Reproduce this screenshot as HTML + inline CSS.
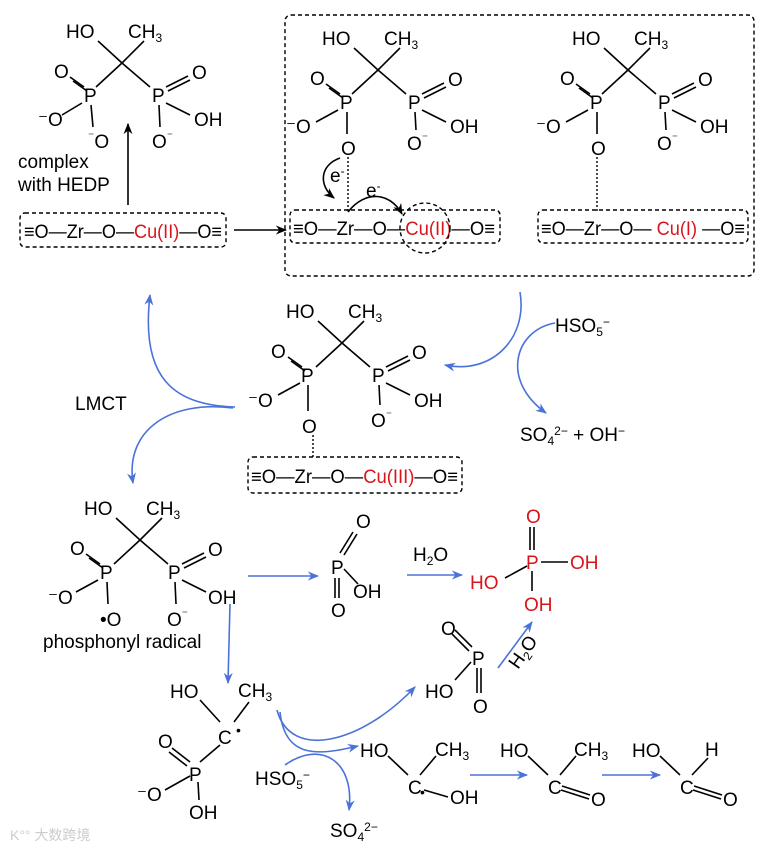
<!DOCTYPE html>
<html><head><meta charset="utf-8"><style>
html,body{margin:0;padding:0;background:#fff;}
svg{display:block;}
text{font-family:"Liberation Sans",Arial,sans-serif;font-size:19px;fill:#000;}
.r{fill:#d9141b;}
.s{font-size:12px;}
line,path.b{stroke:#000;stroke-width:1.6;fill:none;}
.bl{stroke:#4a72d9;stroke-width:1.6;fill:none;}
.dash{stroke:#000;stroke-width:1.4;fill:none;stroke-dasharray:4 3;}
.dot{stroke:#000;stroke-width:1.4;stroke-dasharray:2 2;}
</style></head><body>
<svg width="763" height="851" viewBox="0 0 763 851" xmlns="http://www.w3.org/2000/svg">
<defs>
<marker id="ab" viewBox="0 0 10 10" refX="9" refY="5" markerWidth="7" markerHeight="7" orient="auto"><path d="M0,1 L10,5 L0,9 L3,5 z" fill="#4a72d9"/></marker>
<marker id="ak" viewBox="0 0 10 10" refX="9" refY="5" markerWidth="7" markerHeight="7" orient="auto"><path d="M0,1 L10,5 L0,9 L3,5 z" fill="#000"/></marker>
</defs>

<!-- HEDP 1 top-left -->
<g transform="translate(122,63)">
<text x="-56" y="-25">HO</text><text x="6" y="-25">CH<tspan class="s" dy="4">3</tspan></text>
<line x1="0" y1="0" x2="-24" y2="-22"/><line x1="0" y1="0" x2="22" y2="-22"/>
<line x1="0" y1="0" x2="-26" y2="24"/><line x1="0" y1="0" x2="28" y2="24"/>
<text x="-38" y="39">P</text><text x="30" y="39">P</text>
<text x="-68" y="15">O</text><text x="70" y="16">O</text>
<line x1="-38" y1="24" x2="-52" y2="14"/><line x1="-35" y1="28" x2="-49" y2="18"/>
<line x1="44" y1="24" x2="66" y2="13"/><line x1="46" y1="28" x2="68" y2="17"/>
<text x="-84" y="63">⁻O</text><text x="-34" y="85"><tspan class="s" dy="-8">⁻</tspan><tspan dy="8">O</tspan></text>
<text x="72" y="63">OH</text><text x="30" y="85">O<tspan class="s" dy="-8">⁻</tspan></text>
<line x1="-40" y1="40" x2="-60" y2="52"/><line x1="-31" y1="42" x2="-29" y2="64"/>
<line x1="44" y1="40" x2="68" y2="52"/><line x1="37" y1="42" x2="38" y2="64"/>
</g>
<line x1="128" y1="205" x2="128" y2="124" marker-end="url(#ak)"/>
<text x="18" y="168">complex</text><text x="18" y="191">with HEDP</text>
<rect class="dash" x="20" y="213" width="206" height="34" rx="5"/>
<text x="24" y="238" textLength="198" lengthAdjust="spacingAndGlyphs">≡O—Zr—O—<tspan class="r">Cu(II)</tspan>—O≡</text>
<line x1="234" y1="230" x2="286" y2="230" marker-end="url(#ak)"/>

<!-- big box -->
<rect class="dash" x="285" y="15" width="469" height="261" rx="6"/>
<!-- HEDP 2 -->
<g transform="translate(378,70)">
<text x="-56" y="-25">HO</text><text x="6" y="-25">CH<tspan class="s" dy="4">3</tspan></text>
<line x1="0" y1="0" x2="-24" y2="-22"/><line x1="0" y1="0" x2="22" y2="-22"/>
<line x1="0" y1="0" x2="-26" y2="24"/><line x1="0" y1="0" x2="28" y2="24"/>
<text x="-38" y="39">P</text><text x="30" y="39">P</text>
<text x="-68" y="15">O</text><text x="70" y="16">O</text>
<line x1="-38" y1="24" x2="-52" y2="14"/><line x1="-35" y1="28" x2="-49" y2="18"/>
<line x1="44" y1="24" x2="66" y2="13"/><line x1="46" y1="28" x2="68" y2="17"/>
<text x="-92" y="63">⁻O</text><text x="-37" y="85">O</text>
<text x="72" y="63">OH</text><text x="29" y="80">O<tspan class="s" dy="-8">⁻</tspan></text>
<line x1="-40" y1="40" x2="-62" y2="52"/><line x1="-31" y1="42" x2="-31" y2="64"/>
<line x1="44" y1="40" x2="68" y2="52"/><line x1="37" y1="42" x2="38" y2="60"/>
</g>
<line class="dot" x1="348" y1="157" x2="348" y2="211"/>
<path class="b" d="M340,158 C320,165 318,185 334,198" marker-end="url(#ak)"/>
<text x="330" y="182">e<tspan class="s" dy="-7">-</tspan></text>
<path class="b" d="M348,212 C365,190 390,192 402,214" marker-end="url(#ak)"/>
<text x="366" y="197">e<tspan class="s" dy="-7">-</tspan></text>
<rect class="dash" x="290" y="210" width="210" height="33" rx="5"/>
<text x="293" y="235" textLength="202" lengthAdjust="spacingAndGlyphs">≡O—Zr—O—<tspan class="r">Cu(II)</tspan>—O≡</text>
<circle class="dash" cx="425" cy="228" r="25"/>

<!-- HEDP 3 -->
<g transform="translate(628,70)">
<text x="-56" y="-25">HO</text><text x="6" y="-25">CH<tspan class="s" dy="4">3</tspan></text>
<line x1="0" y1="0" x2="-24" y2="-22"/><line x1="0" y1="0" x2="22" y2="-22"/>
<line x1="0" y1="0" x2="-26" y2="24"/><line x1="0" y1="0" x2="28" y2="24"/>
<text x="-38" y="39">P</text><text x="30" y="39">P</text>
<text x="-68" y="15">O</text><text x="70" y="16">O</text>
<line x1="-38" y1="24" x2="-52" y2="14"/><line x1="-35" y1="28" x2="-49" y2="18"/>
<line x1="44" y1="24" x2="66" y2="13"/><line x1="46" y1="28" x2="68" y2="17"/>
<text x="-92" y="63">⁻O</text><text x="-37" y="85">O</text>
<text x="72" y="63">OH</text><text x="29" y="80">O<tspan class="s" dy="-8">⁻</tspan></text>
<line x1="-40" y1="40" x2="-62" y2="52"/><line x1="-31" y1="42" x2="-31" y2="64"/>
<line x1="44" y1="40" x2="68" y2="52"/><line x1="37" y1="42" x2="38" y2="60"/>
</g>
<line class="dot" x1="597" y1="157" x2="597" y2="211"/>
<rect class="dash" x="538" y="210" width="210" height="33" rx="5"/>
<text x="541" y="235" textLength="204" lengthAdjust="spacingAndGlyphs">≡O—Zr—O— <tspan class="r">Cu(I)</tspan> —O≡</text>

<!-- middle HEDP 4 -->
<g transform="translate(342,343)">
<text x="-56" y="-25">HO</text><text x="6" y="-25">CH<tspan class="s" dy="4">3</tspan></text>
<line x1="0" y1="0" x2="-24" y2="-22"/><line x1="0" y1="0" x2="22" y2="-22"/>
<line x1="0" y1="0" x2="-26" y2="24"/><line x1="0" y1="0" x2="28" y2="24"/>
<text x="-41" y="39">P</text><text x="30" y="39">P</text>
<text x="-71" y="15">O</text><text x="70" y="16">O</text>
<line x1="-40" y1="24" x2="-54" y2="14"/><line x1="-37" y1="28" x2="-51" y2="18"/>
<line x1="44" y1="24" x2="66" y2="13"/><line x1="46" y1="28" x2="68" y2="17"/>
<text x="-94" y="64">⁻O</text><text x="-40" y="90">O</text>
<text x="72" y="64">OH</text><text x="29" y="84">O<tspan class="s" dy="-8">⁻</tspan></text>
<line x1="-42" y1="40" x2="-64" y2="52"/><line x1="-34" y1="42" x2="-34" y2="68"/>
<line x1="44" y1="40" x2="68" y2="52"/><line x1="37" y1="42" x2="38" y2="62"/>
</g>
<line class="dot" x1="313" y1="435" x2="313" y2="457"/>
<rect class="dash" x="248" y="457" width="214" height="36" rx="5"/>
<text x="251" y="483" textLength="207" lengthAdjust="spacingAndGlyphs">≡O—Zr—O—<tspan class="r">Cu(III)</tspan>—O≡</text>

<!-- LMCT arcs -->
<path class="bl" d="M235,407 C175,405 140,380 150,295" marker-end="url(#ab)"/>
<path class="bl" d="M233,408 C170,400 125,430 133,483" marker-end="url(#ab)"/>
<text x="75" y="410">LMCT</text>
<!-- right arcs -->
<path class="bl" d="M520,292 C528,340 490,375 445,365" marker-end="url(#ab)"/>
<path class="bl" d="M555,323 C515,330 500,380 546,413" marker-end="url(#ab)"/>
<text x="555" y="332">HSO<tspan class="s" dy="4">5</tspan><tspan class="s" dy="-10">−</tspan></text>
<text x="520" y="441">SO<tspan class="s" dy="4">4</tspan><tspan class="s" dy="-10">2−</tspan><tspan dy="6"> + OH</tspan><tspan class="s" dy="-6">−</tspan></text>

<!-- radical HEDP 5 -->
<g transform="translate(140,540)">
<text x="-56" y="-25">HO</text><text x="6" y="-25">CH<tspan class="s" dy="4">3</tspan></text>
<line x1="0" y1="0" x2="-24" y2="-22"/><line x1="0" y1="0" x2="22" y2="-22"/>
<line x1="0" y1="0" x2="-26" y2="24"/><line x1="0" y1="0" x2="28" y2="24"/>
<text x="-40" y="39">P</text><text x="28" y="39">P</text>
<text x="-70" y="15">O</text><text x="68" y="16">O</text>
<line x1="-40" y1="24" x2="-54" y2="14"/><line x1="-37" y1="28" x2="-51" y2="18"/>
<line x1="42" y1="24" x2="64" y2="13"/><line x1="44" y1="28" x2="66" y2="17"/>
<text x="-92" y="64">⁻O</text><text x="-40" y="86">•O</text>
<text x="68" y="64">OH</text><text x="27" y="86">O<tspan class="s" dy="-8">⁻</tspan></text>
<line x1="-42" y1="40" x2="-64" y2="52"/><line x1="-33" y1="42" x2="-32" y2="64"/>
<line x1="42" y1="40" x2="66" y2="52"/><line x1="35" y1="42" x2="36" y2="64"/>
</g>
<text x="43" y="648">phosphonyl radical</text>

<line class="bl" x1="248" y1="576" x2="318" y2="576" marker-end="url(#ab)"/>
<line class="bl" x1="230" y1="604" x2="228" y2="683" marker-end="url(#ab)"/>

<!-- PO2OH -->
<text x="356" y="528">O</text>
<line x1="344" y1="555" x2="357" y2="534"/><line x1="340" y1="553" x2="353" y2="532"/>
<text x="331" y="574">P</text>
<line x1="344" y1="569" x2="358" y2="584"/>
<text x="353" y="598">OH</text>
<line x1="335" y1="578" x2="335" y2="598"/><line x1="339" y1="578" x2="339" y2="598"/>
<text x="331" y="617">O</text>

<text x="413" y="561">H<tspan class="s" dy="4">2</tspan><tspan dy="-4">O</tspan></text>
<line class="bl" x1="407" y1="575" x2="462" y2="575" marker-end="url(#ab)"/>

<!-- H3PO4 red -->
<g>
<text class="r" x="526" y="523">O</text>
<line x1="530" y1="527" x2="530" y2="550" stroke="#d9141b"/><line x1="534" y1="527" x2="534" y2="550" stroke="#d9141b"/>
<text class="r" x="526" y="569">P</text>
<line x1="541" y1="562" x2="568" y2="562" stroke="#d9141b"/>
<text class="r" x="570" y="569">OH</text>
<line x1="527" y1="566" x2="505" y2="578" stroke="#d9141b"/>
<text class="r" x="470" y="589">HO</text>
<line x1="532" y1="571" x2="532" y2="591" stroke="#d9141b"/>
<text class="r" x="524" y="611">OH</text>
</g>

<!-- second metaphosphate -->
<text x="441" y="635">O</text>
<line x1="455" y1="630" x2="472" y2="647"/><line x1="452" y1="634" x2="469" y2="651"/>
<text x="472" y="665">P</text>
<line x1="471" y1="662" x2="455" y2="680"/>
<text x="425" y="698">HO</text>
<line x1="477" y1="668" x2="477" y2="693"/><line x1="481" y1="668" x2="481" y2="693"/>
<text x="473" y="713">O</text>
<line class="bl" x1="498" y1="668" x2="532" y2="622" marker-end="url(#ab)"/>
<text x="0" y="0" transform="translate(518,670) rotate(-55)">H<tspan class="s" dy="4">2</tspan><tspan dy="-4">O</tspan></text>

<!-- alkyl radical -->
<text x="170" y="698">HO</text>
<text x="238" y="697">CH<tspan class="s" dy="4">3</tspan></text>
<line x1="200" y1="700" x2="220" y2="722"/><line x1="234" y1="722" x2="249" y2="702"/>
<text x="218" y="744">C</text><text x="236" y="735" style="font-size:14px">•</text>
<line x1="220" y1="745" x2="200" y2="762"/>
<text x="158" y="748">O</text>
<line x1="172" y1="748" x2="190" y2="762"/><line x1="169" y1="752" x2="187" y2="766"/>
<text x="189" y="781">P</text>
<line x1="190" y1="776" x2="165" y2="790"/>
<text x="137" y="801">⁻O</text>
<line x1="198" y1="782" x2="199" y2="800"/>
<text x="189" y="819">OH</text>

<path class="bl" d="M277,710 C290,760 360,745 415,687" marker-end="url(#ab)"/>
<path class="bl" d="M280,712 C285,760 320,755 358,746" marker-end="url(#ab)"/>
<path class="bl" d="M285,765 C320,740 355,760 349,810" marker-end="url(#ab)"/>
<text x="255" y="785">HSO<tspan class="s" dy="4">5</tspan><tspan class="s" dy="-10">−</tspan></text>
<text x="330" y="837">SO<tspan class="s" dy="4">4</tspan><tspan class="s" dy="-10">2−</tspan></text>

<!-- chain -->
<text x="360" y="757">HO</text><text x="435" y="756">CH<tspan class="s" dy="4">3</tspan></text>
<line x1="388" y1="756" x2="408" y2="775"/><line x1="420" y1="775" x2="436" y2="756"/>
<text x="408" y="794">C</text><text x="420" y="797" style="font-size:14px">•</text>
<line x1="424" y1="790" x2="448" y2="797"/>
<text x="450" y="804">OH</text>
<line class="bl" x1="470" y1="775" x2="527" y2="775" marker-end="url(#ab)"/>

<text x="500" y="757">HO</text><text x="574" y="756">CH<tspan class="s" dy="4">3</tspan></text>
<line x1="528" y1="756" x2="548" y2="775"/><line x1="560" y1="775" x2="576" y2="756"/>
<text x="548" y="794">C</text>
<line x1="562" y1="786" x2="590" y2="795"/><line x1="561" y1="790" x2="589" y2="799"/>
<text x="591" y="806">O</text>
<line class="bl" x1="602" y1="775" x2="660" y2="775" marker-end="url(#ab)"/>

<text x="632" y="757">HO</text><text x="705" y="756">H</text>
<line x1="660" y1="756" x2="680" y2="775"/><line x1="692" y1="775" x2="708" y2="758"/>
<text x="680" y="794">C</text>
<line x1="694" y1="786" x2="722" y2="795"/><line x1="693" y1="790" x2="721" y2="799"/>
<text x="723" y="806">O</text>

<text x="10" y="840" style="font-size:14px;fill:#ccc">K°° 大数跨境</text>
</svg>
</body></html>
